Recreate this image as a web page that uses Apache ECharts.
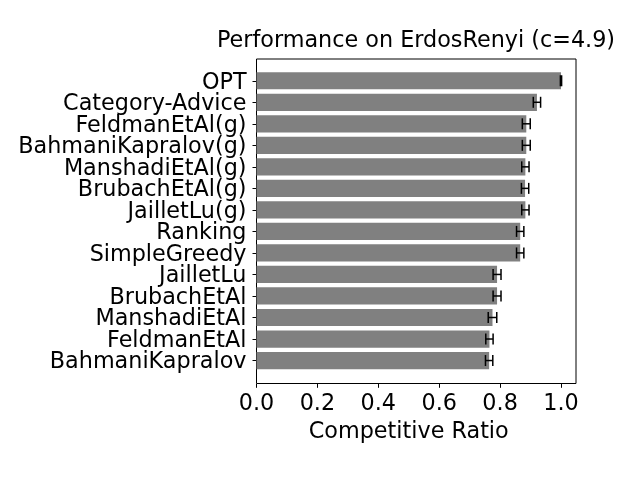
<!DOCTYPE html>
<html>
<head>
<meta charset="utf-8">
<script src="https://cdn.jsdelivr.net/npm/echarts@6/dist/echarts.min.js"></script>
<style>
    html, body { margin: 0; padding: 0; background: #fff; }
    #container { width: 640px; height: 480px; }
</style>
</head>
<body>
<div id="container"></div>
<script>
let chart = echarts.init(document.getElementById('container'));

// data, top to bottom
var names = ['OPT', 'Category-Advice', 'FeldmanEtAl(g)', 'BahmaniKapralov(g)', 'ManshadiEtAl(g)',
    'BrubachEtAl(g)', 'JailletLu(g)', 'Ranking', 'SimpleGreedy', 'JailletLu',
    'BrubachEtAl', 'ManshadiEtAl', 'FeldmanEtAl', 'BahmaniKapralov'];
var ratios = [1.0, 0.921, 0.886, 0.886, 0.883, 0.882, 0.883, 0.866, 0.866, 0.790,
    0.790, 0.775, 0.765, 0.764];
var errors = [0.002, 0.012, 0.013, 0.013, 0.012, 0.012, 0.012, 0.012, 0.012, 0.013,
    0.013, 0.014, 0.012, 0.012];
var xTicks = [0, 0.2, 0.4, 0.6, 0.8, 1.0];

var font = 'DejaVu Sans';
var fs = 22.3;

var errData = names.map((n, i) => [ratios[i], n, errors[i]]);

var option = {
    animation: false,
    graphic: [{
        type: 'text',
        x: 416,
        y: 41.5,
        style: {
            text: 'Performance on ErdosRenyi (c=4.9)',
            fontFamily: font,
            fontSize: fs,
            fill: '#000',
            textAlign: 'center',
            textVerticalAlign: 'middle'
        }
    }],
    grid: [
        {left: 256.5, right: 79, top: 70, height: 301.3},
        {left: 256.5, right: 64, top: 59, bottom: 96.5, show: true, borderColor: '#000', borderWidth: 1}
    ],
    xAxis: [{
        gridIndex: 0,
        type: 'value',
        min: xTicks[0],
        max: xTicks[xTicks.length - 1],
        interval: 0.2,
        offset: 12.5,
        axisLine: {show: false},
        axisTick: {show: true, length: 4, lineStyle: {color: '#000'}},
        splitLine: {show: false},
        axisLabel: {
            color: '#000', fontFamily: font, fontSize: fs, margin: 9,
            formatter: v => v.toFixed(1)
        },
        name: 'Competitive Ratio',
        nameLocation: 'middle',
        nameGap: 37,
        nameTextStyle: {color: '#000', fontFamily: font, fontSize: fs}
    }, {
        gridIndex: 1,
        type: 'value',
        show: false,
        min: 0,
        max: 1
    }],
    yAxis: [{
        gridIndex: 0,
        type: 'category',
        inverse: true,
        data: names,
        axisLine: {show: false},
        axisTick: {show: true, alignWithLabel: true, length: 4, lineStyle: {color: '#000'}},
        axisLabel: {
            color: '#000', fontFamily: font, fontSize: fs, margin: 10, interval: 0,
            formatter: v => '{n|' + v + '}',
            rich: {n: {color: '#000', fontFamily: font, fontSize: fs, padding: [4, 0, 0, 0]}}
        }
    }, {
        gridIndex: 1,
        type: 'value',
        show: false,
        min: 0,
        max: 1
    }],
    series: [{
        type: 'bar',
        xAxisIndex: 0,
        yAxisIndex: 0,
        data: ratios,
        barWidth: '80%',
        itemStyle: {color: '#808080'}
    }, {
        type: 'custom',
        xAxisIndex: 0,
        yAxisIndex: 0,
        data: errData,
        z: 5,
        renderItem: function (params, api) {
            let v = api.value(0);
            let cat = api.value(1);
            let e = api.value(2);
            let lo = api.coord([v - e, cat]);
            let hi = api.coord([v + e, cat]);
            let h = 5.5;
            let st = {stroke: '#000', lineWidth: 1.5};
            return {
                type: 'group',
                children: [
                    {type: 'line', shape: {x1: lo[0], y1: lo[1], x2: hi[0], y2: hi[1]}, style: st},
                    {type: 'line', shape: {x1: lo[0], y1: lo[1] - h, x2: lo[0], y2: lo[1] + h}, style: st},
                    {type: 'line', shape: {x1: hi[0], y1: hi[1] - h, x2: hi[0], y2: hi[1] + h}, style: st}
                ]
            };
        }
    }]
};

chart.setOption(option);
</script>
</body>
</html>
